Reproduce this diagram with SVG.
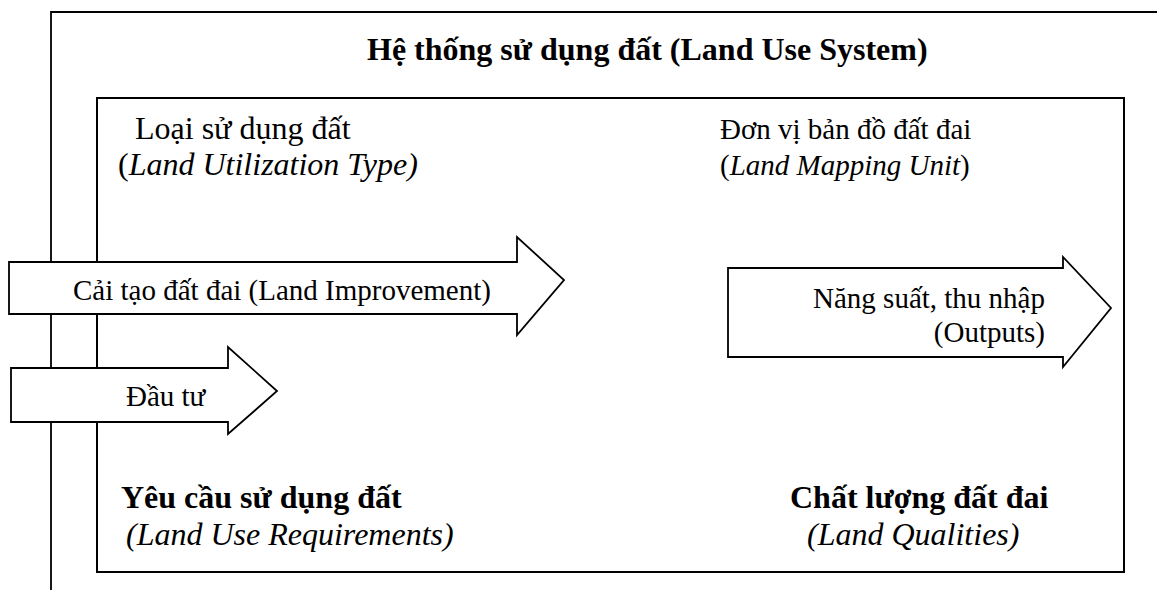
<svg xmlns="http://www.w3.org/2000/svg" width="1157" height="590" viewBox="0 0 1157 590">
<style>
.box{fill:none;stroke:#000;stroke-width:2}
.outer{fill:none;stroke:#000;stroke-width:1.8}
.arrow{fill:#fff;stroke:#000;stroke-width:1.8;stroke-linejoin:miter}
text{font-family:"Liberation Serif","Times New Roman",serif;fill:#000}
.t32{font-size:32px}
.t29{font-size:29px}
.b{font-weight:bold}
.i{font-style:italic}
</style>
<rect width="1157" height="590" fill="#fff"/>
<g id="land-use-system">
<polyline class="outer" points="51,590 51,12 1157,12"/>
<text class="t32 b" x="367" y="60">Hệ thống sử dụng đất (Land Use System)</text>
</g>
<g id="inner-box">
<rect class="box" x="97" y="98" width="1027" height="474"/>
</g>
<g id="land-utilization-type">
<text class="t32" x="135" y="139">Loại sử dụng đất</text>
<text class="t32" x="118" y="175">(<tspan class="i">Land Utilization Type)</tspan></text>
</g>
<g id="land-mapping-unit">
<text class="t29" x="720" y="139">Đơn vị bản đồ đất đai</text>
<text class="t29" x="720" y="175">(<tspan class="i">Land Mapping Unit</tspan>)</text>
</g>
<g id="land-use-requirements">
<text class="t32 b" x="121" y="508">Yêu cầu sử dụng đất</text>
<text class="t32 i" x="126" y="545">(Land Use Requirements)</text>
</g>
<g id="land-qualities">
<text class="t32 b" x="790" y="508">Chất lượng đất đai</text>
<text class="t32 i" x="807" y="545">(Land Qualities)</text>
</g>
<g id="connectors">
<g id="land-improvement">
<polygon class="arrow" points="9,262 517,262 517,237 564,280 517,335 517,314 9,314"/>
<text class="t29" x="73" y="300">Cải tạo đất đai (Land Improvement)</text>
</g>
<g id="dau-tu">
<polygon class="arrow" points="11,368 228,368 228,347 277,391 228,434 228,422 11,422"/>
<text class="t29" x="126" y="406">Đầu tư</text>
</g>
<g id="outputs">
<polygon class="arrow" points="728,268 1063,268 1063,257 1111,308 1063,367 1063,357 728,357"/>
<text class="t29" x="1045" y="308" text-anchor="end">Năng suất, thu nhập</text>
<text class="t29" x="1045" y="342" text-anchor="end">(Outputs)</text>
</g>
</g>
</svg>
